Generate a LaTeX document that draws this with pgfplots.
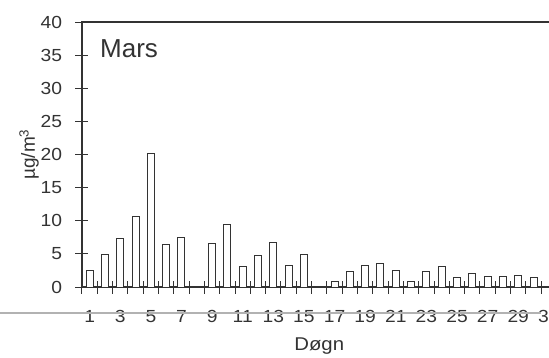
\documentclass[border=0pt]{standalone}
\usepackage{pgfplots}
\pgfplotsset{compat=1.18}
\usepackage{fontspec}
\setmainfont{Liberation Sans}
\newfontfamily\widesans[FakeStretch=1.1]{Liberation Sans}
\definecolor{ink}{HTML}{333333}
\begin{document}
\begin{tikzpicture}
\begin{axis}[
  scale only axis,
  width=474.5pt, height=265pt,
  xmin=0.5, xmax=31.5, ymin=0, ymax=40,
  axis line style={ink, line width=1.1pt},
  every tick/.style={ink, line width=1.0pt},
  ytick={0,5,...,40},
  ytick pos=left,
  tick align=center,
  major tick length=13pt,
  xtick={1,3,...,31},
  xtick pos=bottom,
  minor xtick={0.5,1.5,...,31.5},
  minor tick length=13pt,
  major x tick style={draw=none},
  tick label style={font=\widesans\fontsize{17.5}{20}\selectfont, text=ink},
  xticklabel style={yshift=-13pt},
  yticklabel style={xshift=-10pt},
  /pgf/number format/assume math mode=true,
  every axis x label/.style={at={(rel axis cs:0.5,0)}, anchor=center, yshift=-59pt},
  every axis y label/.style={at={([xshift=-53pt]rel axis cs:0,0.5)}, rotate=90, anchor=center},
  xlabel={\widesans\fontsize{18.5}{22}\selectfont\color{ink}Døgn},
  ylabel={\fontsize{19}{22}\selectfont\color{ink}µg/m\textsuperscript{3}},
  clip=false,
]
\draw[gray!60, line width=1.6pt] (rel axis cs:0,0) ++(-82pt,-26pt) -- ++(549pt,0);
\addplot[ybar, bar width=7pt, fill=white, draw=ink, line width=1.0pt] coordinates {
(1,2.5) (2,4.95) (3,7.3) (4,10.6) (5,20.2) (6,6.4) (7,7.5)
(9,6.5) (10,9.5) (11,3.1) (12,4.7) (13,6.7) (14,3.3) (15,4.85)
(17,0.86) (18,2.3) (19,3.3) (20,3.5) (21,2.5) (22,0.8) (23,2.3) (24,3.1)
(25,1.4) (26,2.0) (27,1.6) (28,1.6) (29,1.7) (30,1.4)
};
\node[anchor=base west, text=ink, font=\fontsize{26}{30}\selectfont, inner sep=0pt] at (rel axis cs:0,0) [xshift=18pt, yshift=230pt] {Mars};
\end{axis}
\pgfresetboundingbox
\path (-82pt,-70pt) rectangle (467pt,287pt);
\end{tikzpicture}
\end{document}
